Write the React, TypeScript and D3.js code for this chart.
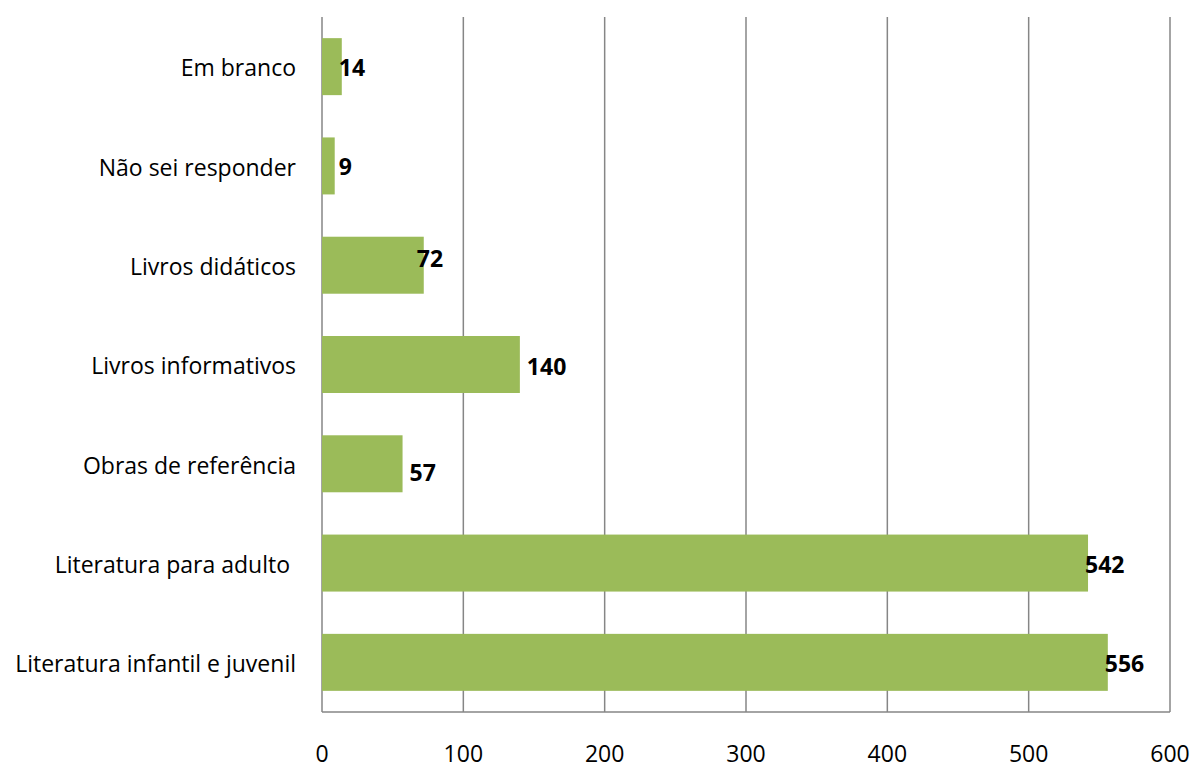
import { useEffect, useRef } from "react";
import * as d3 from "d3";

// categories top to bottom, as in the chart
const categories = [
  "Em branco",
  "Não sei responder",
  "Livros didáticos",
  "Livros informativos",
  "Obras de referência",
  "Literatura para adulto ",
  "Literatura infantil e juvenil",
];
const counts = [14, 9, 72, 140, 57, 542, 556];
const xTicks = [0, 100, 200, 300, 400, 500, 600];

// hand-placed label offsets (dx, dy) from bar end / band centre
const labelNudge: [number, number][] = [
  [-3, 1],
  [4, 1],
  [-7, -6],
  [7, 2],
  [7, 9],
  [-3, 2],
  [-3, 1],
];

const App = () => {
  const chartRef = useRef<HTMLDivElement>(null);

  useEffect(() => {
    document.body.style.margin = "0";
    const width = 1195;
    const height = 764;
    const left = 322;
    const right = 1170;
    const top = 17;
    const bottom = 712;
    const font = "'Open Sans', sans-serif";
    const fontSize = 23;

    const svg = d3
      .select(chartRef.current)
      .append("svg")
      .attr("width", width)
      .attr("height", height)
      .style("display", "block");

    const x = d3.scaleLinear().domain([0, 600]).range([left, right]);
    const y = d3
      .scaleBand()
      .domain(categories)
      .range([top, bottom])
      .paddingInner(0.426)
      .paddingOuter(0.213);

    // gridlines
    svg
      .append("g")
      .selectAll("line")
      .data(xTicks)
      .join("line")
      .attr("x1", (d) => x(d))
      .attr("x2", (d) => x(d))
      .attr("y1", top)
      .attr("y2", bottom)
      .attr("stroke", "#868686")
      .attr("stroke-width", 1.5);

    // bottom axis line
    svg
      .append("line")
      .attr("x1", left)
      .attr("x2", right)
      .attr("y1", bottom)
      .attr("y2", bottom)
      .attr("stroke", "#868686")
      .attr("stroke-width", 1.5);

    // bars
    svg
      .append("g")
      .selectAll("rect")
      .data(counts)
      .join("rect")
      .attr("x", x(0))
      .attr("y", (_, i) => y(categories[i])!)
      .attr("width", (d) => x(d) - x(0))
      .attr("height", y.bandwidth())
      .attr("fill", "#9BBB59");

    // value labels
    svg
      .append("g")
      .selectAll("text")
      .data(counts)
      .join("text")
      .attr("x", (d, i) => x(d) + labelNudge[i][0])
      .attr("y", (_, i) => y(categories[i])! + y.bandwidth() / 2 + labelNudge[i][1])
      .attr("dy", "0.36em")
      .attr("font-family", font)
      .attr("font-size", fontSize)
      .attr("font-weight", "bold")
      .attr("fill", "#000")
      .text((d) => d);

    // category labels
    svg
      .append("g")
      .selectAll("text")
      .data(categories)
      .join("text")
      .attr("x", left - 26)
      .attr("y", (d) => y(d)! + y.bandwidth() / 2 + 1.5)
      .attr("dy", "0.36em")
      .attr("text-anchor", "end")
      .attr("font-family", font)
      .attr("font-size", fontSize)
      .attr("fill", "#000")
      .style("white-space", "pre")
      .text((d) => d);

    // x tick labels
    svg
      .append("g")
      .selectAll("text")
      .data(xTicks)
      .join("text")
      .attr("x", (d) => x(d))
      .attr("y", 754)
      .attr("dy", "0.36em")
      .attr("text-anchor", "middle")
      .attr("font-family", font)
      .attr("font-size", fontSize)
      .attr("fill", "#000")
      .text((d) => d);

    return () => {
      d3.select(chartRef.current).selectAll("*").remove();
    };
  }, []);

  return <div ref={chartRef}></div>;
};

export default App;
